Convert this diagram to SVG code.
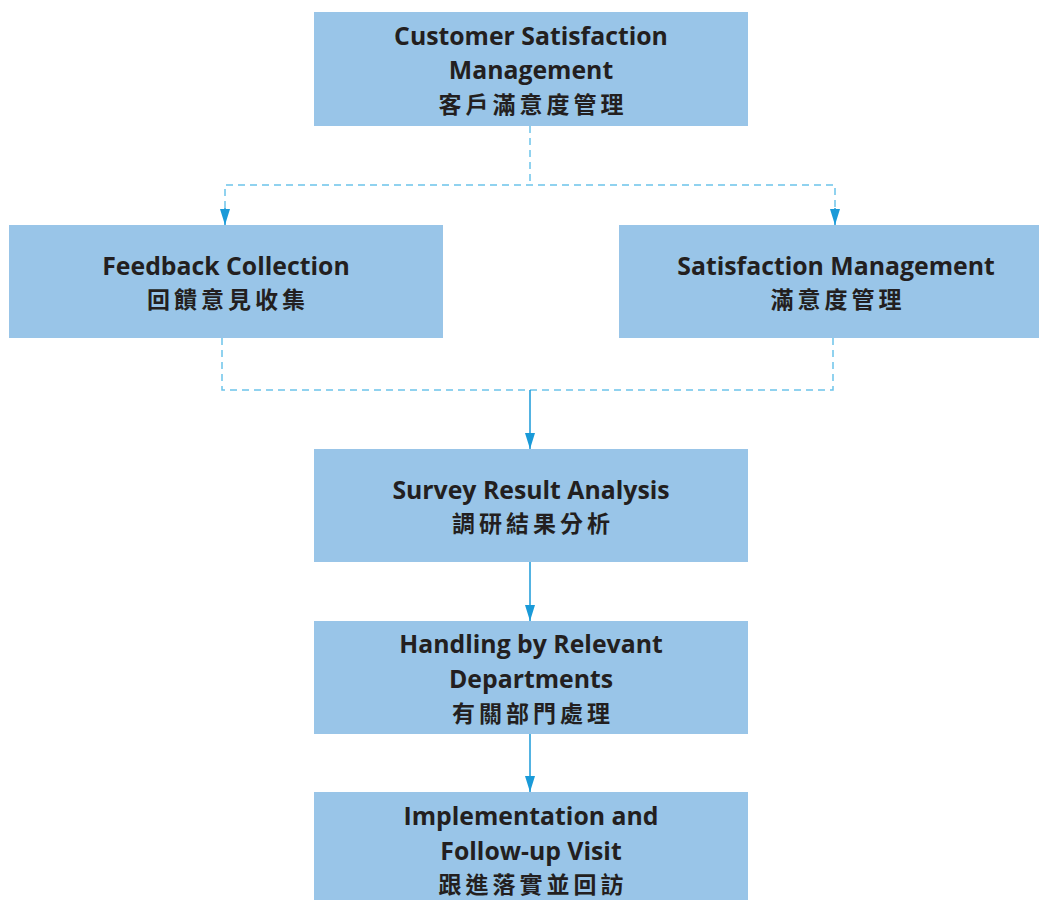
<svg xmlns="http://www.w3.org/2000/svg" width="1039" height="900" viewBox="0 0 1039 900">
<defs>
<style>
.box{fill:#99c5e8}
.en{font-family:"Open Sans","Liberation Sans",sans-serif;font-weight:bold;font-size:24.8px;fill:#231f20;text-anchor:middle}
.zh{font-family:"Noto Sans CJK TC","Noto Sans CJK SC",sans-serif;font-weight:bold;font-size:23px;fill:#231f20;text-anchor:middle;letter-spacing:4px}
.dash{fill:none;stroke:#6cc3ea;stroke-width:1.5;stroke-dasharray:7,5}
.solid{fill:none;stroke:#1a9ad8;stroke-width:1.5}
</style>
<marker id="ah" markerWidth="16" markerHeight="10" refX="16" refY="5" orient="auto" markerUnits="userSpaceOnUse" viewBox="0 0 16 10">
<path d="M0,0 L16,5 L0,10 Z" fill="#1a9ad8"/>
</marker>
</defs>
<rect width="1039" height="900" fill="#ffffff"/>
<g id="connectors">
<path class="dash" d="M530,126 V185"/>
<path class="dash" d="M225,208 V185 H835 V208"/>
<path class="solid" d="M225,208 V225" marker-end="url(#ah)"/>
<path class="solid" d="M835,208 V225" marker-end="url(#ah)"/>
<path class="dash" d="M222,338 V390 H833 V338"/>
<path class="solid" d="M530,390 V449" marker-end="url(#ah)"/>
<path class="solid" d="M530,562 V621" marker-end="url(#ah)"/>
<path class="solid" d="M530,734 V792" marker-end="url(#ah)"/>
</g>
<g id="n1"><rect class="box" x="314" y="12" width="434" height="114"/>
<text class="en" x="531" y="45">Customer Satisfaction</text>
<text class="en" x="531" y="79">Management</text>
<text class="zh" x="533" y="113">客戶滿意度管理</text></g>
<g id="n2"><rect class="box" x="9" y="225" width="434" height="113"/>
<text class="en" x="226" y="275">Feedback Collection</text>
<text class="zh" x="228" y="308">回饋意見收集</text></g>
<g id="n3"><rect class="box" x="619" y="225" width="420" height="113"/>
<text class="en" x="836" y="275">Satisfaction Management</text>
<text class="zh" x="838" y="308">滿意度管理</text></g>
<g id="n4"><rect class="box" x="314" y="449" width="434" height="113"/>
<text class="en" x="531" y="499">Survey Result Analysis</text>
<text class="zh" x="533" y="532">調研結果分析</text></g>
<g id="n5"><rect class="box" x="314" y="621" width="434" height="113"/>
<text class="en" x="531" y="653">Handling by Relevant</text>
<text class="en" x="531" y="688">Departments</text>
<text class="zh" x="533" y="722">有關部門處理</text></g>
<g id="n6"><rect class="box" x="314" y="792" width="434" height="108"/>
<text class="en" x="531" y="825">Implementation and</text>
<text class="en" x="531" y="860">Follow-up Visit</text>
<text class="zh" x="533" y="893">跟進落實並回訪</text></g>
</svg>
